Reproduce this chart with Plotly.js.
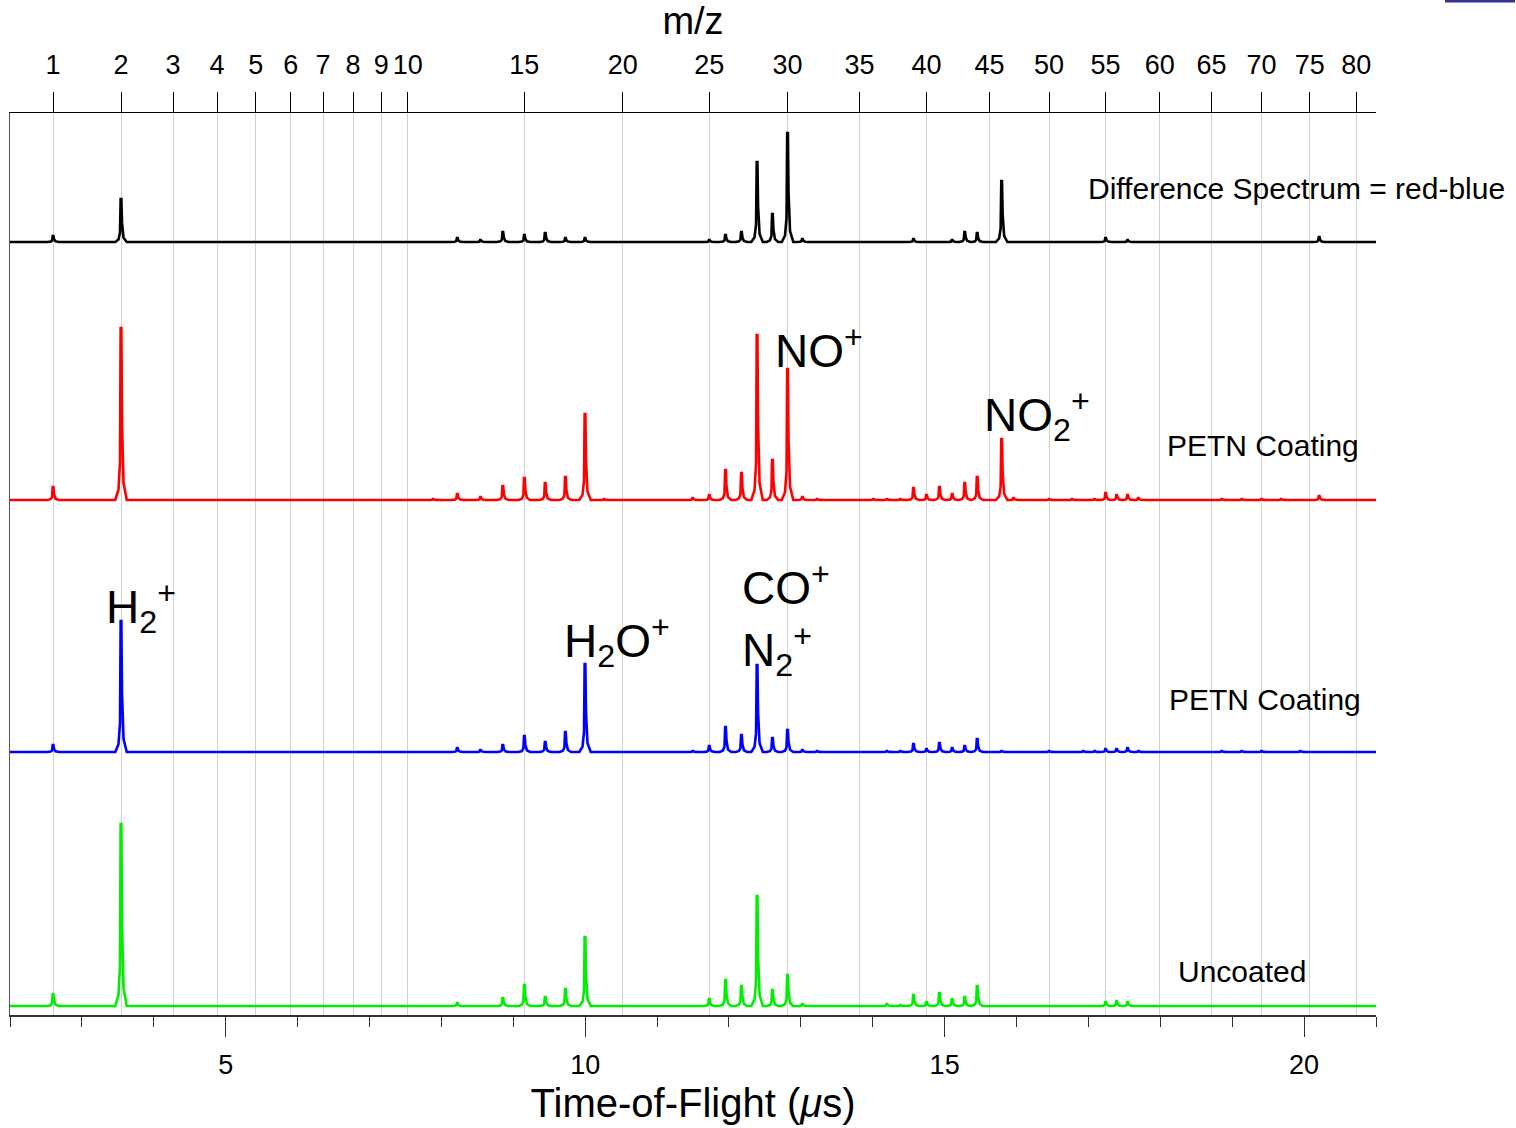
<!DOCTYPE html>
<html>
<head>
<meta charset="utf-8">
<script src="https://cdn.plot.ly/plotly-3.0.1.min.js"></script>
<style>
html,body{margin:0;padding:0;background:#fff;}
#chart{width:1516px;height:1128px;}
</style>
</head>
<body>
<div id="chart"></div>
<script>
// ---- data ----
// TOF calibration: t(us) = CAL_A * sqrt(m/z) + CAL_B
const CAL_A = 2.2818;
const CAL_B = 0.317;

// top axis (m/z) tick labels
const mzTicks = [1,2,3,4,5,6,7,8,9,10,15,20,25,30,35,40,45,50,55,60,65,70,75,80];
const mzTickText = ['1','2','3','4','5','6','7','8','9','10','15','20','25','30','35','40','45','50','55','60','65','70','75','80'];

// Difference spectrum (red - blue)
const diffMz = [1, 2, 12, 13, 14, 15, 16, 17, 18, 25, 26, 27, 28, 29, 30, 31, 39, 42, 43, 44, 46, 55, 57, 76];
const diffH  = [6, 43, 4, 2, 10, 7, 9, 4, 4, 2, 7, 10, 80, 28, 109, 3, 3, 2, 10, 9, 61, 4, 2, 5];

// PETN coating (red)
const redMz = [1, 2, 11, 12, 13, 14, 15, 16, 17, 18, 19, 24, 25, 26, 27, 28, 29, 30, 31, 32, 36, 37, 38, 39, 40, 41, 42, 43, 44, 46, 47, 50, 52, 54, 55, 56, 57, 58, 66, 68, 70, 72, 76];
const redH  = [13, 172, 1, 6, 3, 14, 22, 17, 23, 86, 1, 2, 5, 30, 27, 165, 40, 131, 3, 1, 1, 1, 1, 12, 5, 13, 6, 17, 23, 61, 2, 1, 1, 1, 7, 5, 5, 2, 1, 1, 1, 1, 4];

// PETN coating (blue)
const blueMz = [1, 2, 12, 13, 14, 15, 16, 17, 18, 24, 25, 26, 27, 28, 29, 30, 31, 32, 37, 38, 39, 40, 41, 42, 43, 44, 46, 50, 53, 54, 55, 56, 57, 58, 66, 68, 70, 74];
const blueH  = [7, 131, 4, 2, 7, 16, 10, 20, 88, 1, 6, 25, 17, 87, 14, 22, 2, 1, 1, 1, 8, 3, 9, 4, 6, 13, 1, 1, 1, 1, 3, 3, 4, 1, 1, 1, 1, 1];

// Uncoated (green)
const greenMz = [1, 2, 12, 14, 15, 16, 17, 18, 25, 26, 27, 28, 29, 30, 31, 37, 38, 39, 40, 41, 42, 43, 44, 55, 56, 57];
const greenH  = [12, 182, 3, 8, 21, 9, 17, 69, 7, 26, 20, 110, 16, 31, 2, 2, 1, 11, 4, 13, 7, 9, 20, 4, 5, 4];

// ---- presentation ----
const TOF_RANGE = [2, 21];
const OFFSETS = {diff: 773, red: 515, blue: 263, green: 9};   // vertical stacking
const PROFILE = [[-0.08,0],[-0.035,0.06],[-0.014,0.22],[-0.005,1],[0.005,1],[0.014,0.45],[0.035,0.1],[0.08,0]];
const FONT = 'Liberation Sans, Arial, Helvetica, sans-serif';

function tof(mz){ return CAL_A*Math.sqrt(mz) + CAL_B; }

function spectrum(mzArr, hArr, offset){
  const peaks = mzArr.map((m,i)=>({t: tof(m), h: hArr[i]})).sort((a,b)=>a.t-b.t);
  const xs = [TOF_RANGE[0]], ys = [offset];
  peaks.forEach(p=>{
    PROFILE.forEach(([dt,f])=>{ xs.push(p.t+dt); ys.push(offset + f*p.h); });
  });
  xs.push(TOF_RANGE[1]); ys.push(offset);
  return {x: xs, y: ys};
}

function lineTrace(mzArr, hArr, offset, color, name){
  const s = spectrum(mzArr, hArr, offset);
  return {x: s.x, y: s.y, type: 'scatter', mode: 'lines', name: name,
          line: {color: color, width: 2.6, simplify: false}, hoverinfo: 'skip', showlegend: false};
}

const tickTOF = mzTicks.map(tof);

const traces = [
  lineTrace(greenMz, greenH, OFFSETS.green, '#00ee00', 'Uncoated'),
  lineTrace(blueMz, blueH, OFFSETS.blue, '#0000ff', 'PETN Coating (blue)'),
  lineTrace(redMz, redH, OFFSETS.red, '#ff0000', 'PETN Coating (red)'),
  lineTrace(diffMz, diffH, OFFSETS.diff, '#000000', 'Difference'),
  {x: tickTOF, y: tickTOF.map(()=>null), xaxis: 'x2', yaxis: 'y', type: 'scatter', mode: 'lines',
   hoverinfo: 'skip', showlegend: false}
];

const W = 1516, H = 1128, L = 10, R = 140, T = 113, B = 113;
const pw = W - L - R, ph = H - T - B;
function px(x){ return (x - L)/pw; }
function py(y){ return (H - B - y)/ph; }

function ann(text, x, y, size, anchor){
  return {text: text, xref: 'paper', yref: 'paper', x: px(x), y: py(y),
          xanchor: anchor || 'left', yanchor: 'middle', showarrow: false,
          font: {family: FONT, size: size, color: '#000'}};
}

const layout = {
  width: W, height: H,
  margin: {l: L, r: R, t: T, b: B, pad: 0},
  paper_bgcolor: '#fff', plot_bgcolor: '#fff',
  showlegend: false,
  font: {family: FONT, color: '#000'},
  xaxis: {
    range: TOF_RANGE, showgrid: false, zeroline: false,
    showline: true, linecolor: '#333', linewidth: 1.5,
    ticks: 'outside', tick0: 0, dtick: 5, ticklen: 20, tickwidth: 1, tickcolor: '#333',
    minor: {dtick: 1, ticks: 'outside', ticklen: 10, tickwidth: 1, tickcolor: '#333', showgrid: false},
    tickfont: {size: 27, family: FONT}, ticklabelstandoff: 5,
    title: {text: 'Time-of-Flight (<i>μ</i>s)', font: {size: 40, family: FONT}, standoff: 10}
  },
  xaxis2: {
    overlaying: 'x', side: 'top', anchor: 'y', range: TOF_RANGE,
    tickmode: 'array', tickvals: tickTOF, ticktext: mzTickText, tickangle: 0,
    showgrid: true, gridcolor: '#d2d2d2', gridwidth: 1, zeroline: false,
    showline: true, linecolor: '#000', linewidth: 1.5,
    ticks: 'outside', ticklen: 20, tickwidth: 1, tickcolor: '#000',
    tickfont: {size: 27, family: FONT}, ticklabelstandoff: 7,
    title: {text: 'm/z', font: {size: 38, family: FONT}, standoff: 3}
  },
  yaxis: {
    range: [0, ph], showgrid: false, zeroline: false, showticklabels: false,
    showline: true, linecolor: '#555', linewidth: 1.5, ticks: '', fixedrange: true
  },
  annotations: [
    ann('Difference Spectrum = red-blue', 1086, 188, 30),
    ann('PETN Coating', 1165, 445, 30),
    ann('PETN Coating', 1167, 699, 30),
    ann('Uncoated', 1176, 971, 30),
    ann('NO<sup>+</sup>', 773, 348, 46),
    ann('NO<sub>2</sub><sup>+</sup>', 982, 415, 46),
    ann('H<sub>2</sub><sup>+</sup>', 104, 607, 46),
    ann('H<sub>2</sub>O<sup>+</sup>', 562, 641, 46),
    ann('CO<sup>+</sup>', 740, 585, 46),
    ann('N<sub>2</sub><sup>+</sup>', 740, 650, 46)
  ],
  shapes: [
    {type: 'line', xref: 'paper', yref: 'paper', x0: px(1445), x1: px(1515), y0: py(1), y1: py(1),
     line: {color: '#33338f', width: 3}}
  ]
};

Plotly.newPlot('chart', traces, layout, {displayModeBar: false, staticPlot: true});
</script>
</body>
</html>
